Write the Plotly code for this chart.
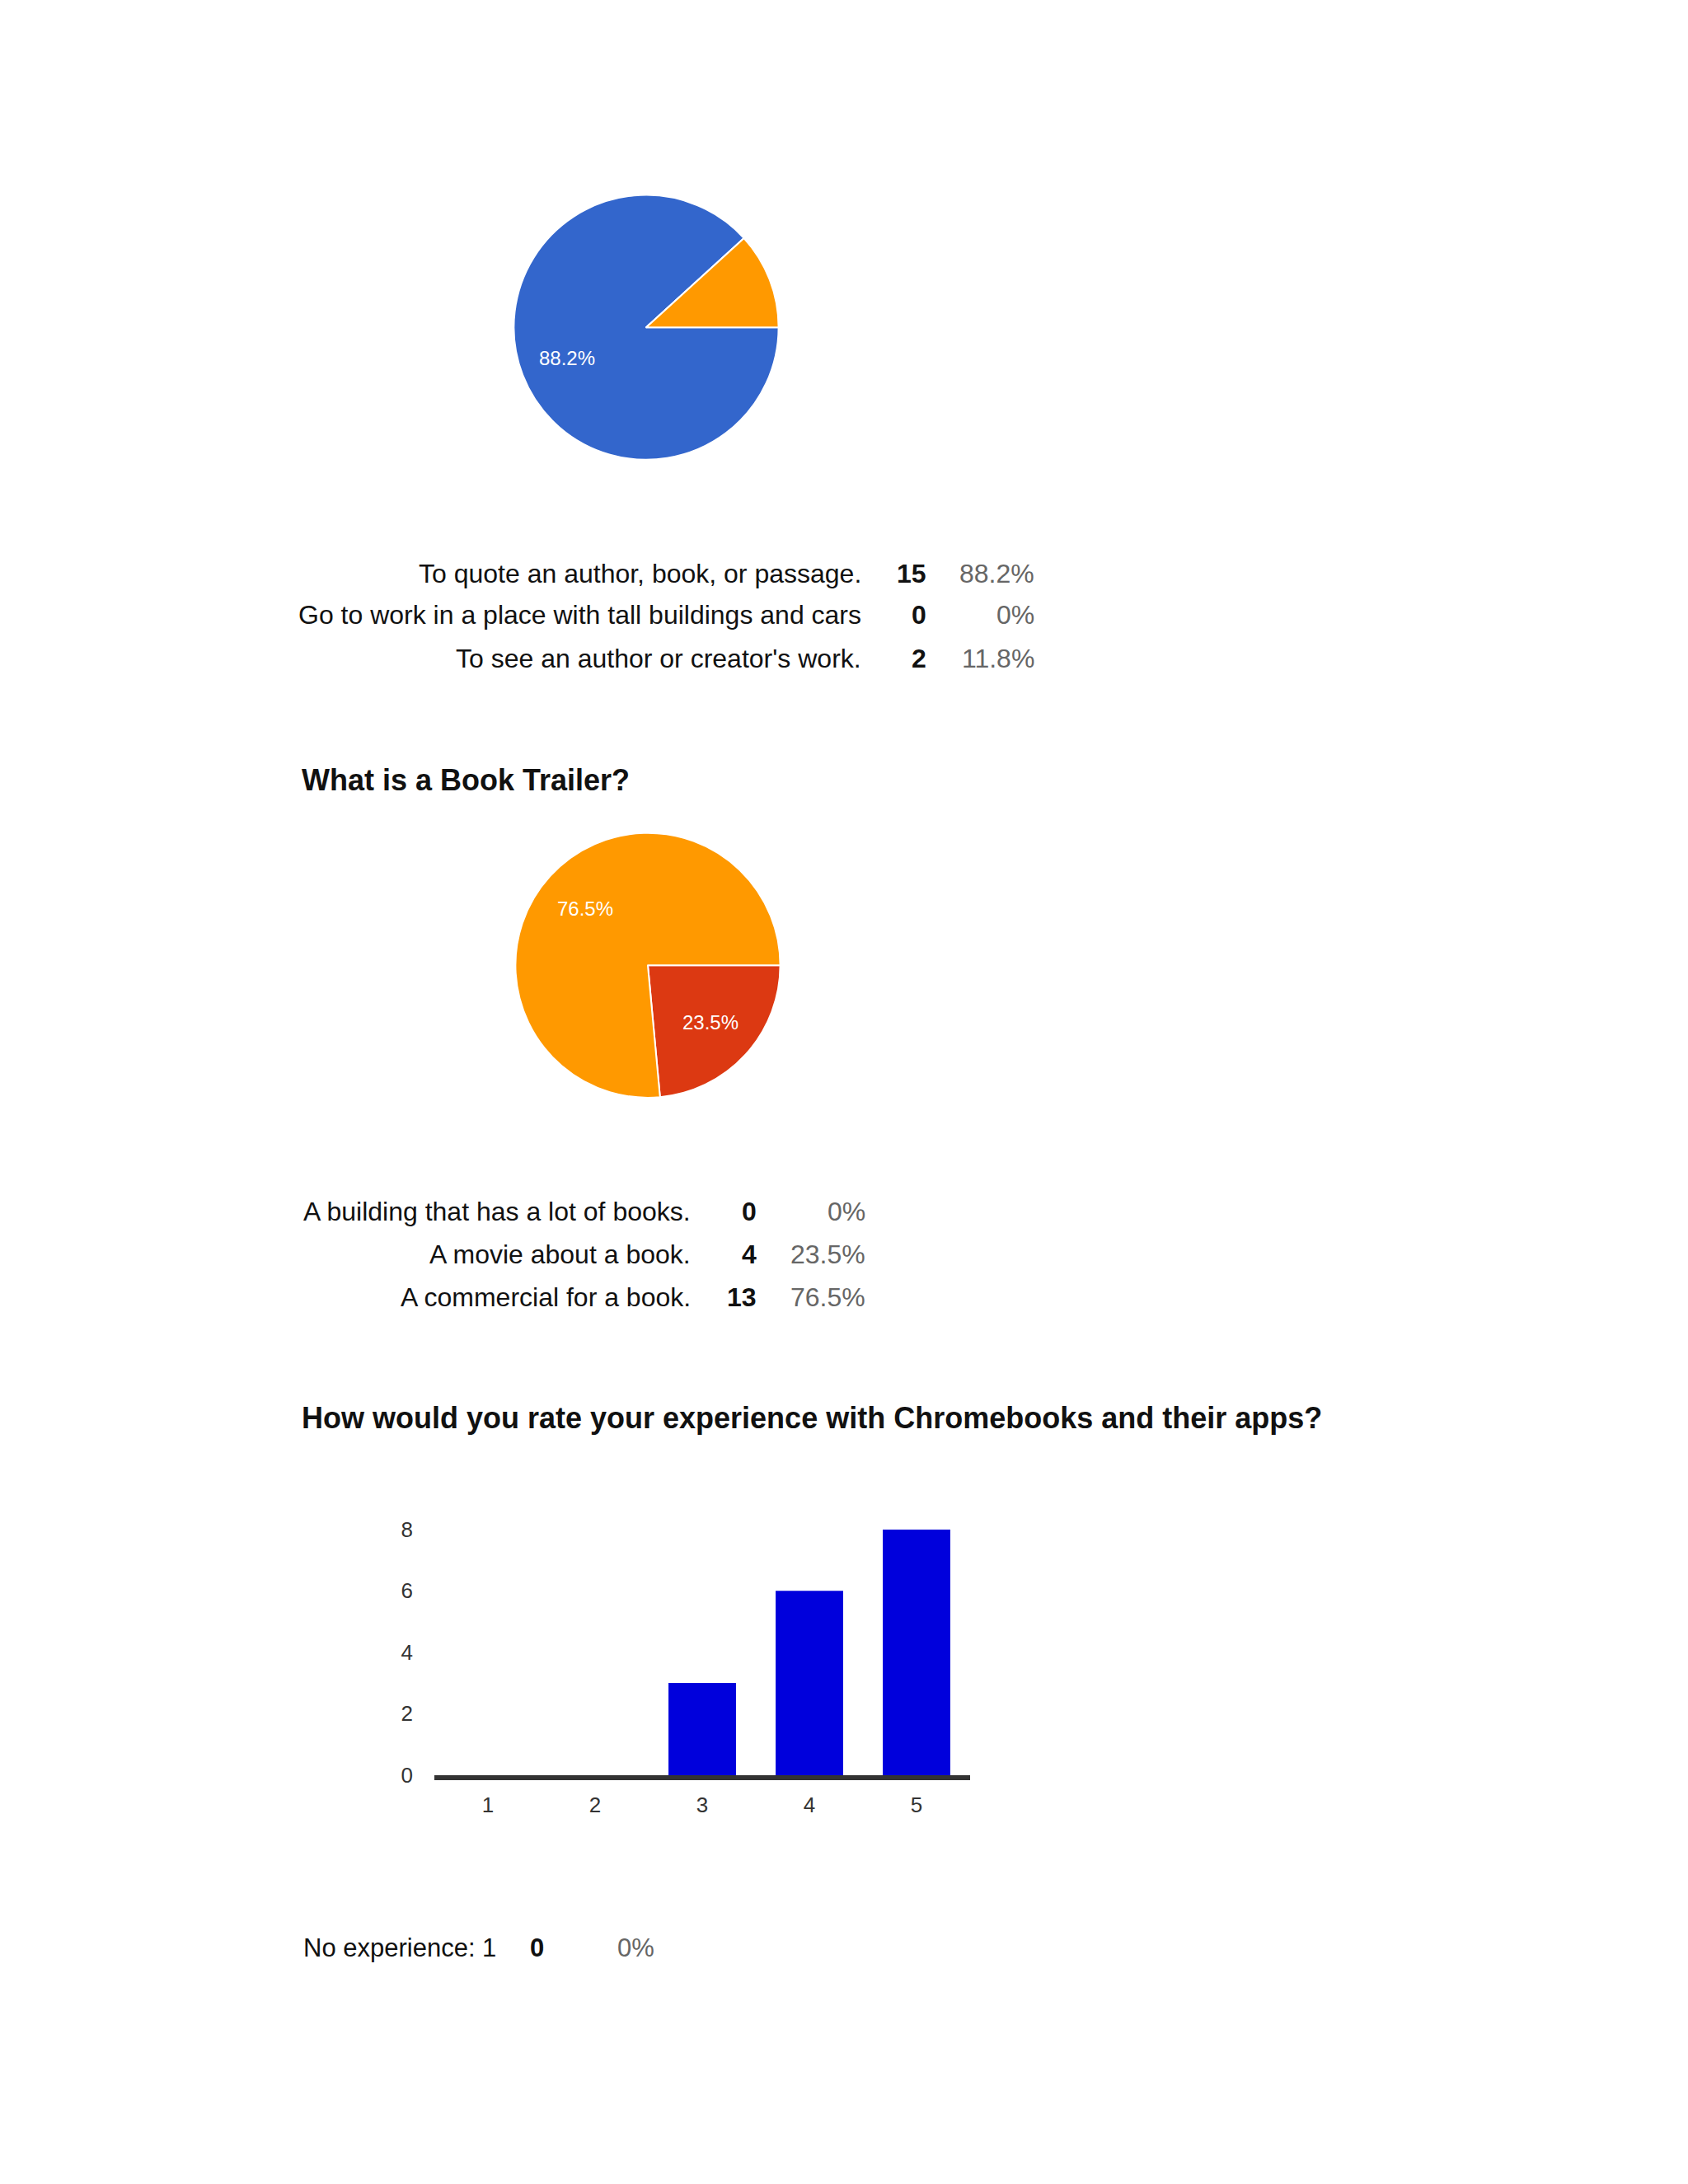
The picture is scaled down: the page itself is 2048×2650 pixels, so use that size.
import math
import plotly.graph_objects as go

W, H = 2048, 2650
PAD = 8  # browser body margin
FW, FH = W - 2 * PAD, H - 2 * PAD
FONT = "Arial, Liberation Sans, sans-serif"

# survey data
q1_labels = ["To quote an author, book, or passage.",
             "Go to work in a place with tall buildings and cars",
             "To see an author or creator's work."]
q1_counts = [15, 0, 2]

q2_title = "What is a Book Trailer?"
q2_labels = ["A building that has a lot of books.",
             "A movie about a book.",
             "A commercial for a book."]
q2_counts = [0, 4, 13]

q3_title = "How would you rate your experience with Chromebooks and their apps?"
q3_ratings = ["1", "2", "3", "4", "5"]
q3_counts = [0, 0, 3, 6, 8]
q3_low_label = "No experience: 1"
q3_low_count = 0

pie_colors = ["#3366cc", "#dc3912", "#ff9900"]


def fx(x):
    return (x - PAD) / FW


def fy(y):
    # small vertical correction measured from the rendered page
    y = (y - 14) / 0.991
    return 1 - (y - PAD) / FH


def pct(v, total):
    if v == 0:
        return "0%"
    return "%.1f%%" % (100.0 * v / total)


annotations = []


def text(s, x, y, anchor="right", size=32, color="#111111", bold=False):
    if bold:
        s = "<b>" + s + "</b>"
    annotations.append(dict(
        text=s, x=fx(x), y=fy(y), xref="paper", yref="paper",
        xanchor=anchor, yanchor="middle", showarrow=False,
        font=dict(family=FONT, size=size, color=color),
    ))


def pie_trace(counts, labels, cx, cy, r):
    total = sum(counts)
    # slice labels: clockwise from 3 o'clock, at ~0.64 of the radius
    start = 0.0
    for c in counts:
        frac = c / total
        if frac > 0.2:
            mid = start + frac * 180.0
            a = math.radians(-mid)
            text(pct(c, total), cx + 0.64 * r * math.cos(a),
                 cy - 0.64 * r * math.sin(a), anchor="center",
                 size=24, color="white")
        start += frac * 360.0
    return go.Pie(
        values=counts, labels=labels, sort=False,
        direction="clockwise", rotation=90,
        marker=dict(colors=pie_colors, line=dict(color="white", width=2)),
        textinfo="none",
        domain=dict(x=[fx(cx - r), fx(cx + r)], y=[fy(cy + r), fy(cy - r)]),
        showlegend=False, hoverinfo="skip",
    )


fig = go.Figure()
fig.add_trace(pie_trace(q1_counts, q1_labels, 784, 397, 161))
fig.add_trace(pie_trace(q2_counts, q2_labels, 786, 1173, 161))
fig.add_trace(go.Bar(x=q3_ratings, y=q3_counts, marker_color="#0000dc",
                     marker_line_width=0, showlegend=False, hoverinfo="skip"))


def table(labels, counts, rows_y, lab_x, cnt_x, pct_x):
    total = sum(counts)
    for lab, c, y in zip(labels, counts, rows_y):
        text(lab, lab_x, y)
        text(str(c), cnt_x, y, bold=True)
        text(pct(c, total), pct_x, y, color="#666666")


table(q1_labels, q1_counts, [697, 747, 800], 1047, 1126, 1257)
text(q2_title, 364, 948, anchor="left", size=36, bold=True)
table(q2_labels, q2_counts, [1472, 1525, 1577], 840, 920, 1052)
text(q3_title, 364, 1724, anchor="left", size=36, bold=True)

total3 = sum(q3_counts)
text(q3_low_label, 366, 2368, anchor="left", size=31)
text(str(q3_low_count), 662, 2368, size=31, bold=True)
text(pct(q3_low_count, total3), 796, 2368, size=31, color="#666666")

fig.update_layout(
    width=FW, height=FH,
    margin=dict(l=0, r=0, t=0, b=0),
    paper_bgcolor="white", plot_bgcolor="white",
    annotations=annotations,
    bargap=0.37,
    xaxis=dict(
        domain=[fx(527), fx(1177)], type="category",
        showline=True, linewidth=6, linecolor="#333333",
        showgrid=False, zeroline=False, ticks="",
        tickfont=dict(family=FONT, size=26, color="#333333"),
        ticklabelstandoff=8,
    ),
    yaxis=dict(
        domain=[fy(2158), fy(1859)], range=[0, 8],
        tickvals=[0, 2, 4, 6, 8],
        showgrid=False, zeroline=False, showline=False, ticks="",
        tickfont=dict(family=FONT, size=26, color="#333333"),
        ticklabelstandoff=25,
    ),
)

fig.write_html("out.html")
